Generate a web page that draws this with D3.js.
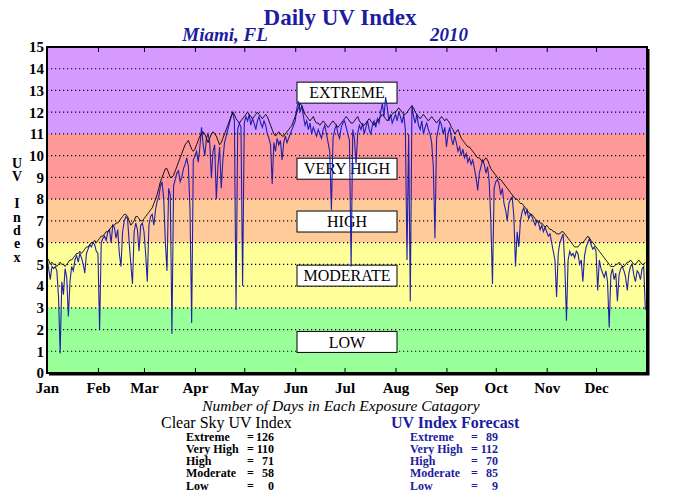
<!DOCTYPE html>
<html>
<head>
<meta charset="utf-8">
<script src="https://cdn.jsdelivr.net/npm/d3@7"></script>
<style>
  body { margin: 0; background: #fff; }
  svg { display: block; }
</style>
</head>
<body>
<svg id="chart" width="680" height="500"></svg>
<script>
// ---- data ----
const monthLabels = ["Jan","Feb","Mar","Apr","May","Jun","Jul","Aug","Sep","Oct","Nov","Dec"];
const yTicks = [0,1,2,3,4,5,6,7,8,9,10,11,12,13,14,15];

// exposure bands: lower/upper bound, fill, label
const bandNames = ["LOW","MODERATE","HIGH","VERY HIGH","EXTREME"];
const bandLow   = [0, 3, 6, 8, 11];
const bandHigh  = [3, 6, 8, 11, 15];
const bandFill  = ["#99ff99","#ffff99","#ffcc99","#ff9999","#d699ff"];

// days per category (table under the chart)
const categoryNames = ["Extreme","Very High","High","Moderate","Low"];
const clearSkyDays  = [126, 110, 71, 58, 0];
const forecastDays  = [89, 112, 70, 85, 9];

// daily clear sky UV index, 2010 (black line)
const clearSky = [
  /* Jan */ 5.3,5.2,5.0,5.1,5.0,5.0,4.9,5.0,5.1,5.0,5.0,4.9,5.0,5.1,5.2,5.2,5.3,5.4,5.5,5.5,5.6,5.5,5.6,5.7,5.8,5.8,5.9,6.0,6.0,6.1,6.0,
  /* Feb */ 6.1,6.2,6.3,6.3,6.4,6.5,6.5,6.6,6.7,6.8,6.8,6.9,6.9,7.0,7.1,7.2,7.3,7.3,7.2,7.0,6.8,6.9,7.0,7.2,7.2,7.1,7.0,7.0,
  /* Mar */ 7.1,7.2,7.3,7.4,7.5,7.6,7.8,8.0,8.2,8.5,8.8,9.0,9.2,9.4,9.4,9.2,9.0,9.0,9.1,9.3,9.5,9.7,9.9,10.1,10.3,10.5,10.6,10.7,10.5,10.3,10.2,
  /* Apr */ 10.3,10.5,10.7,10.9,11.0,11.1,11.0,10.8,10.6,10.8,11.0,11.1,11.0,10.9,10.7,10.5,10.6,10.8,11.0,11.2,11.4,11.6,11.8,12.0,11.9,11.7,11.6,11.5,11.6,11.7,
  /* May */ 11.8,11.9,12.0,11.9,11.8,11.7,11.8,11.9,12.0,11.9,11.8,11.7,11.8,11.9,11.8,11.6,11.4,11.2,11.0,10.9,11.0,11.1,11.0,10.9,10.9,11.0,11.1,11.2,11.3,11.4,11.6,
  /* Jun */ 11.8,12.0,12.2,12.4,12.3,12.1,11.9,11.8,11.7,11.6,11.7,11.8,11.6,11.5,11.5,11.4,11.5,11.6,11.5,11.4,11.3,11.4,11.5,11.6,11.5,11.4,11.3,11.4,11.5,11.6,
  /* Jul */ 11.7,11.8,11.7,11.6,11.5,11.5,11.6,11.7,11.8,11.6,11.5,11.4,11.4,11.5,11.6,11.7,11.6,11.5,11.4,11.5,11.6,11.7,11.8,11.9,11.8,11.7,11.6,11.7,11.8,11.9,12.0,
  /* Aug */ 12.0,12.1,12.2,12.1,12.0,11.9,11.9,12.0,12.1,12.2,12.3,12.2,12.0,11.9,11.8,11.7,11.8,11.9,11.8,11.7,11.6,11.7,11.8,11.7,11.6,11.5,11.6,11.7,11.8,11.7,11.6,
  /* Sep */ 11.7,11.6,11.5,11.3,11.2,11.0,11.1,11.2,11.0,10.8,10.7,10.6,10.5,10.4,10.4,10.3,10.2,10.1,10.0,9.9,9.9,9.8,9.7,9.8,9.9,9.8,9.6,9.4,9.3,9.2,
  /* Oct */ 9.1,9.0,8.9,8.9,8.8,8.7,8.6,8.5,8.4,8.3,8.2,8.1,8.0,8.0,7.9,7.8,7.8,7.7,7.6,7.5,7.4,7.3,7.3,7.2,7.1,7.0,7.0,6.9,6.9,6.8,6.7,
  /* Nov */ 6.8,6.7,6.6,6.6,6.5,6.5,6.4,6.4,6.4,6.5,6.5,6.4,6.3,6.2,6.1,6.0,5.9,5.8,5.8,5.8,5.9,6.0,6.0,6.1,6.2,6.3,6.2,6.1,6.0,5.9,
  /* Dec */ 5.8,5.7,5.6,5.5,5.4,5.3,5.2,5.1,5.0,4.9,4.9,4.9,5.0,5.0,5.1,5.0,4.9,4.9,5.0,5.1,5.1,5.2,5.1,5.0,5.0,5.1,5.2,5.1,5.0,5.0,5.1
];

// daily UV index forecast, 2010 (blue line)
const forecast = [
  /* Jan */ 5.3,4.8,4.3,4.9,4.8,4.9,4.7,3.5,0.9,4.2,3.6,4.8,4.4,2.6,4.2,4.9,4.7,5.2,5.4,5.1,5.5,5.3,5.0,4.6,5.5,5.7,5.9,5.8,6.0,5.9,5.6,
  /* Feb */ 5.5,2.0,6.0,6.2,6.3,6.1,6.5,6.6,6.0,6.8,6.7,6.2,6.6,5.5,4.9,6.5,7.0,7.2,7.1,6.0,5.0,4.1,6.5,6.9,6.6,5.6,6.8,6.9,
  /* Mar */ 6.5,5.5,4.2,6.8,7.2,7.3,6.8,7.5,7.9,8.1,8.6,8.8,8.0,6.0,4.7,8.5,8.2,1.8,8.6,8.9,9.2,9.3,8.8,9.0,9.4,9.6,9.9,9.5,7.5,2.3,9.8,
  /* Apr */ 10.0,10.2,9.7,10.4,11.3,10.5,10.0,10.8,11.0,10.6,9.0,10.2,10.5,8.0,9.5,10.4,8.5,9.8,10.6,10.9,11.2,11.5,11.8,12.0,11.6,2.9,11.2,11.5,11.3,4.0,
  /* May */ 11.5,11.8,11.6,11.9,11.4,11.7,11.5,11.2,11.6,11.8,11.5,11.3,11.6,11.4,11.0,10.8,10.5,8.7,10.6,10.2,10.8,10.5,10.7,9.8,10.6,10.9,10.6,10.8,11.0,11.2,11.4,
  /* Jun */ 11.6,12.2,12.5,12.0,12.3,11.8,11.4,11.6,11.2,11.5,11.0,11.3,11.1,10.9,11.2,11.0,10.8,11.2,11.4,11.0,10.6,10.2,7.5,10.8,11.2,11.4,11.0,10.8,11.3,11.5,
  /* Jul */ 11.6,11.3,11.0,10.7,4.9,11.2,10.8,9.6,11.0,11.4,11.2,11.5,11.0,11.3,11.6,11.2,11.0,11.4,11.6,11.3,11.7,11.5,12.0,12.4,11.8,12.7,12.2,11.6,11.9,11.5,11.7,
  /* Aug */ 11.9,11.6,12.0,11.8,11.5,11.9,11.2,5.2,11.0,3.3,12.3,11.8,11.5,11.9,11.4,11.2,11.6,11.0,11.3,11.5,11.2,11.0,10.6,9.5,6.2,10.8,11.2,11.6,11.4,11.0,11.3,
  /* Sep */ 10.4,11.0,11.3,10.8,10.5,10.9,10.6,10.2,10.4,10.0,10.3,9.9,10.1,9.7,9.9,9.6,9.8,9.4,9.0,8.4,9.2,9.5,9.8,9.6,9.2,9.5,8.8,7.0,4.1,8.5,
  /* Oct */ 8.8,8.9,8.7,8.2,8.5,7.8,7.5,7.0,7.8,8.0,8.1,7.2,4.9,6.5,5.8,7.0,7.4,7.6,7.3,7.5,7.1,7.3,7.2,7.0,6.8,7.0,6.9,6.6,6.8,6.5,6.7,
  /* Nov */ 6.5,6.3,6.4,6.0,5.6,5.2,3.5,5.5,6.0,6.2,6.4,5.0,2.4,5.2,5.6,5.4,5.5,5.3,5.6,5.5,5.0,5.2,4.2,5.4,5.8,6.0,6.2,5.9,5.7,5.8,
  /* Dec */ 5.6,3.8,5.2,4.8,4.6,4.4,4.7,4.2,2.1,4.5,4.8,4.3,4.6,3.3,4.5,4.8,4.9,4.7,4.4,3.8,4.6,4.9,5.0,4.5,4.2,4.7,4.6,4.3,4.8,4.9,2.9
];

// ---- layout ----
const svg = d3.select("#chart");
const plotL = 47, plotR = 647, plotT = 47, plotB = 373;
const serif = "'Liberation Serif', 'Times New Roman', serif";
const navy = "#1c1ca0";

const x = d3.scaleUtc()
  .domain([new Date(Date.UTC(2010,0,1)), new Date(Date.UTC(2011,0,1))])
  .range([plotL, plotR]);
const y = d3.scaleLinear().domain([0, 15]).range([plotB, plotT]);
const day = i => new Date(Date.UTC(2010, 0, 1 + i));

// background bands
svg.append("g").selectAll("rect")
  .data(bandNames)
  .join("rect")
  .attr("x", plotL)
  .attr("width", plotR - plotL)
  .attr("y", (d, i) => y(bandHigh[i]))
  .attr("height", (d, i) => y(bandLow[i]) - y(bandHigh[i]))
  .attr("fill", (d, i) => bandFill[i]);

// dotted grid lines
svg.append("g").selectAll("line")
  .data(yTicks.filter(v => v > 0 && v < 15))
  .join("line")
  .attr("x1", plotL).attr("x2", plotR)
  .attr("y1", d => y(d)).attr("y2", d => y(d))
  .attr("stroke", "#000")
  .attr("stroke-width", 1.2)
  .attr("stroke-dasharray", "1.2,2.8");

// category label boxes (placed inside each band)
const labelAt = [1.43, 4.48, 6.97, 9.4, 12.9];
const boxW = 100, boxH = 21, boxCx = 347;
const boxes = svg.append("g").selectAll("g")
  .data(bandNames)
  .join("g")
  .attr("transform", (d, i) => `translate(${boxCx},${y(labelAt[i])})`);
boxes.append("rect")
  .attr("x", -boxW / 2).attr("y", -boxH / 2)
  .attr("width", boxW).attr("height", boxH)
  .attr("fill", "#fff").attr("stroke", "#000").attr("stroke-width", 1);
boxes.append("text")
  .attr("text-anchor", "middle")
  .attr("dy", "0.36em")
  .style("font-family", serif)
  .style("font-size", "16px")
  .text(d => d);

// lines
const line = d3.line()
  .x((d, i) => x(day(i)))
  .y(d => y(d));

svg.append("path")
  .datum(forecast)
  .attr("fill", "none")
  .attr("stroke", "#2020aa")
  .attr("stroke-width", 1.1)
  .attr("d", line);

svg.append("path")
  .datum(clearSky)
  .attr("fill", "none")
  .attr("stroke", "#000")
  .attr("stroke-width", 0.9)
  .attr("d", line);

// month axis (ticks point into the plot)
const months = d3.utcMonth.range(x.domain()[0], x.domain()[1]);
const xAxis = svg.append("g")
  .attr("transform", `translate(0,${plotB})`)
  .call(d3.axisBottom(x).tickValues(months).tickSizeInner(-5).tickSizeOuter(0).tickPadding(9)
    .tickFormat((d, i) => monthLabels[i]));
xAxis.select(".domain").remove();
xAxis.selectAll("text")
  .style("font-family", serif).style("font-size", "15px").style("font-weight", "bold").attr("fill", "#000");

const xTop = svg.append("g")
  .attr("transform", `translate(0,${plotT})`)
  .call(d3.axisTop(x).tickValues(months).tickSizeInner(-5).tickSizeOuter(0).tickFormat(""));
xTop.select(".domain").remove();

// value axis
const yAxis = svg.append("g")
  .attr("transform", `translate(${plotL},0)`)
  .call(d3.axisLeft(y).tickValues(yTicks).tickSize(0).tickPadding(3).tickFormat(d3.format("d")));
yAxis.select(".domain").remove();
yAxis.selectAll("text")
  .style("font-family", serif).style("font-size", "15px").style("font-weight", "bold").attr("fill", "#000");

// frame with heavier right/bottom edge
svg.append("rect")
  .attr("x", plotL).attr("y", plotT)
  .attr("width", plotR - plotL).attr("height", plotB - plotT)
  .attr("fill", "none").attr("stroke", "#000").attr("stroke-width", 2);
svg.append("path")
  .attr("d", `M${plotR + 1.5},${plotT + 2}V${plotB + 1.5}H${plotL + 2}`)
  .attr("fill", "none").attr("stroke", "#000").attr("stroke-width", 2);

// vertical axis title, one letter per row
const yTitle = ["U","V","","I","n","d","e","x"];
svg.append("g").selectAll("text")
  .data(yTitle)
  .join("text")
  .attr("x", 17)
  .attr("y", (d, i) => 168 + i * 13.4)
  .attr("text-anchor", "middle")
  .style("font-family", serif).style("font-size", "14px").style("font-weight", "bold")
  .text(d => d);

// titles
svg.append("text")
  .attr("x", 340).attr("y", 25)
  .attr("text-anchor", "middle")
  .attr("fill", navy)
  .style("font-family", serif).style("font-size", "23px").style("font-weight", "bold")
  .text("Daily UV Index");
svg.append("text")
  .attr("x", 225).attr("y", 41)
  .attr("text-anchor", "middle")
  .attr("fill", navy)
  .style("font-family", serif).style("font-size", "19px").style("font-weight", "bold").style("font-style", "italic")
  .text("Miami, FL");
svg.append("text")
  .attr("x", 449).attr("y", 41)
  .attr("text-anchor", "middle")
  .attr("fill", navy)
  .style("font-family", serif).style("font-size", "19px").style("font-weight", "bold").style("font-style", "italic")
  .text("2010");

// summary table
svg.append("text")
  .attr("x", 341).attr("y", 411)
  .attr("text-anchor", "middle")
  .style("font-family", serif).style("font-size", "15.5px").style("font-style", "italic")
  .text("Number of Days in Each Exposure Catagory");

function table(x0, headX, heading, counts, color, bold) {
  const g = svg.append("g").attr("fill", color);
  g.append("text")
    .attr("x", headX).attr("y", 428)
    .style("font-family", serif).style("font-size", "16px").style("font-weight", bold ? "bold" : "normal")
    .text(heading);
  const rows = g.selectAll("g.row")
    .data(categoryNames)
    .join("g")
    .attr("class", "row")
    .attr("transform", (d, i) => `translate(0,${440.5 + i * 12.3})`)
    .style("font-family", serif).style("font-size", "12px").style("font-weight", "bold");
  rows.append("text").attr("x", x0).text(d => d);
  rows.append("text").attr("x", x0 + 61).text("=");
  rows.append("text").attr("x", x0 + 88).attr("text-anchor", "end").text((d, i) => counts[i]);
}
table(186, 161, "Clear Sky UV Index", clearSkyDays, "#000", false);
table(410, 391, "UV Index Forecast", forecastDays, navy, true);
</script>
</body>
</html>
